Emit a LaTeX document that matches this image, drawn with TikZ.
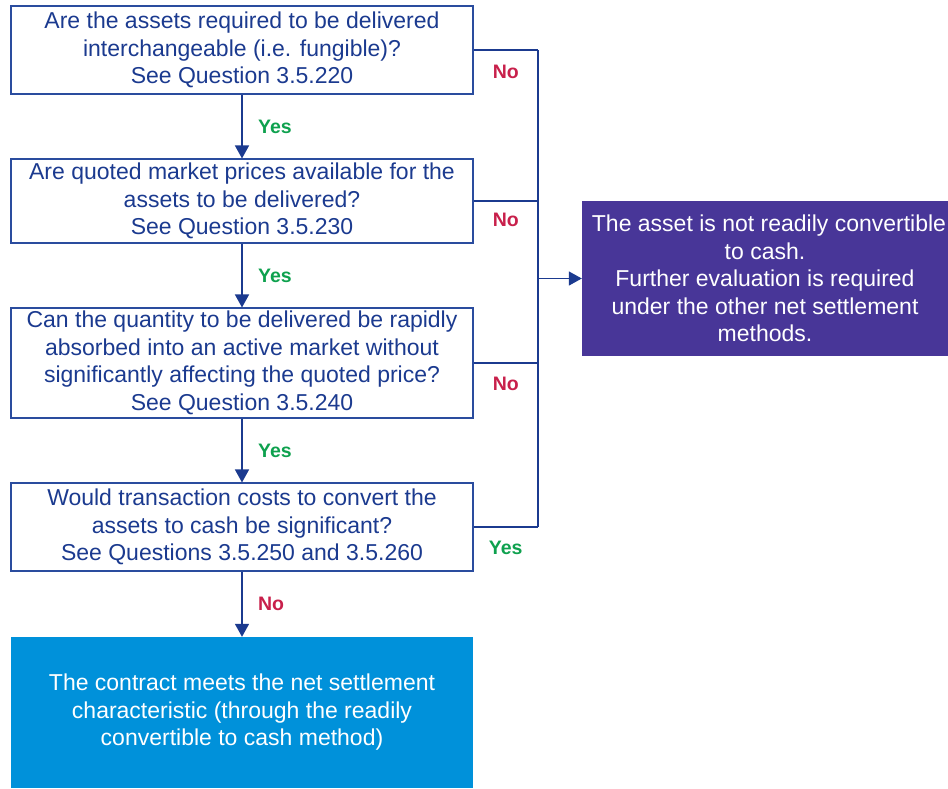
\documentclass[tikz,border=0pt]{standalone}
\usepackage{fontspec}
\setmainfont{Liberation Sans}
\usetikzlibrary{arrows.meta,calc}

\begin{document}
\begin{tikzpicture}[x=1pt, y=1pt]

\definecolor{cNavy}{HTML}{1B3A8F}
\definecolor{cLine}{HTML}{2A4C9E}
\definecolor{cNo}{HTML}{C8204B}
\definecolor{cYes}{HTML}{0EA14E}
\definecolor{cPurple}{HTML}{483698}
\definecolor{cBlue}{HTML}{0091DA}

\tikzset{
  question/.style = {draw=cLine, line width=1.1pt, text=cNavy, align=center,
                     minimum width=462pt, inner sep=0pt,
                     font=\fontsize{23}{27.5}\selectfont},
  outcome/.style  = {align=center, text=white, inner sep=0pt,
                     font=\fontsize{23}{27.5}\selectfont},
  flow/.style     = {draw=cNavy, line width=1.5pt},
  arrow/.style    = {flow, -{Triangle[width=14pt,length=13pt]}},
  yes/.style      = {text=cYes, font=\fontsize{19.5}{22}\selectfont\bfseries},
  no/.style       = {text=cNo, font=\fontsize{19.5}{22}\selectfont\bfseries},
}

\useasboundingbox (0,0) rectangle (948,-788);

%% ---------- the questions, left ----------
\node[question, minimum height=88pt]  (q1) at (242,-50)
  {Are the assets required to be delivered\\interchangeable (i.e. fungible)?\\See Question 3.5.220};
\node[question, minimum height=84pt]  (q2) at (242,-201)
  {Are quoted market prices available for the\\assets to be delivered?\\See Question 3.5.230};
\node[question, minimum height=110pt] (q3) at (242,-363)
  {Can the quantity to be delivered be rapidly\\absorbed into an active market without\\significantly affecting the quoted price?\\See Question 3.5.240};
\node[question, minimum height=88pt]  (q4) at (242,-527)
  {Would transaction costs to convert the\\assets to cash be significant?\\See Questions 3.5.250 and 3.5.260};

%% ---------- the outcomes ----------
\node[outcome, fill=cBlue, minimum width=462pt, minimum height=151pt] (met) at (242,-712.5)
  {The contract meets the net settlement\\characteristic (through the readily\\convertible to cash method)};
\node[outcome, fill=cPurple, minimum width=366pt, minimum height=155pt] (notmet) at (765,-278.5)
  {\hspace*{8pt}The asset is not readily convertible\\to cash.\\Further evaluation is required\\under the other net settlement\\methods.};

%% ---------- down the left ----------
\draw[arrow] (q1) -- node[yes, right=12pt] {Yes} (q2);
\draw[arrow] (q2) -- node[yes, right=12pt] {Yes} (q3);
\draw[arrow] (q3) -- node[yes, right=12pt] {Yes} (q4);
\draw[arrow] (q4) -- node[no, right=12pt]  {No}  (met);

%% ---------- out to the right ----------
\coordinate (bus) at (538,0);

\draw[flow] (q1.east) -- node[no,  below=11pt] {No}  (q1.east -| bus);
\draw[flow] (q2.east) -- node[no,  below=8pt]  {No}  (q2.east -| bus);
\draw[flow] (q3.east) -- node[no,  below=10pt] {No}  (q3.east -| bus);
\draw[flow] (q4.east) -- node[yes, below=10pt] {Yes} (q4.east -| bus);
\draw[flow] (q1.east -| bus) -- (q4.east -| bus);
\draw[arrow] (notmet.west -| bus) -- (notmet.west);

\end{tikzpicture}
\end{document}
